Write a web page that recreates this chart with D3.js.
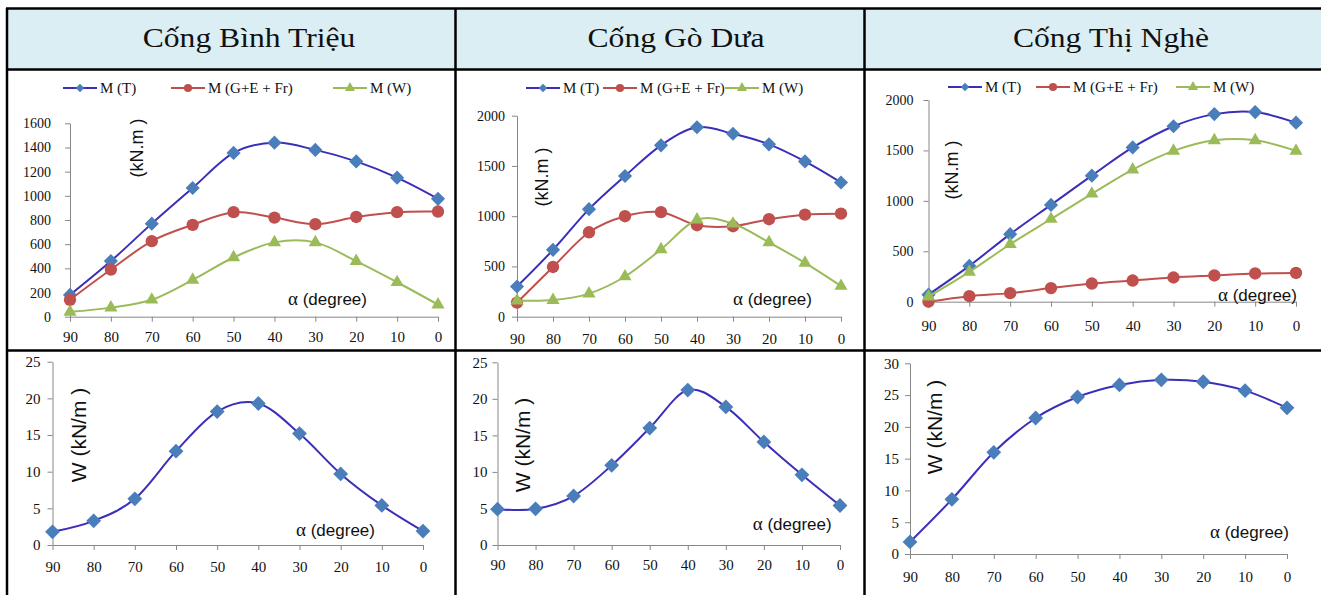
<!DOCTYPE html>
<html>
<head>
<meta charset="utf-8">
<script src="https://cdn.jsdelivr.net/npm/d3@7"></script>
<style>
  body { margin: 0; background: #fff; }
  svg { display: block; }
</style>
</head>
<body>
<div id="chart"></div>
<script>
// ---- data ----
var angles = [90, 80, 70, 60, 50, 40, 30, 20, 10, 0];
var titles = ["Cống Bình Triệu", "Cống Gò Dưa", "Cống Thị Nghè"];
var seriesNames = ["M (T)", "M (G+E + Fr)", "M (W)"];

var binhTrieuMT  = [180, 460, 770, 1065, 1355, 1440, 1380, 1285, 1150, 975];
var binhTrieuMG  = [140, 390, 625, 760, 865, 820, 765, 825, 865, 870];
var binhTrieuMW  = [40, 75, 140, 305, 490, 615, 615, 460, 285, 100];
var binhTrieuW   = [1.8, 3.3, 6.3, 12.8, 18.2, 19.3, 15.2, 9.7, 5.4, 1.9];

var goDuaMT  = [300, 665, 1070, 1400, 1705, 1885, 1820, 1715, 1545, 1335];
var goDuaMG  = [140, 495, 840, 1000, 1040, 910, 900, 970, 1015, 1025];
var goDuaMW  = [160, 165, 230, 400, 670, 965, 925, 740, 535, 305];
var goDuaW   = [4.9, 4.95, 6.7, 10.9, 16.0, 21.2, 18.9, 14.1, 9.6, 5.4];

var thiNgheMT  = [70, 355, 670, 960, 1250, 1530, 1740, 1860, 1880, 1775];
var thiNgheMG  = [0, 55, 85, 135, 180, 210, 240, 260, 280, 285];
var thiNgheMW  = [50, 295, 570, 820, 1070, 1310, 1495, 1600, 1600, 1495];
var thiNgheW   = [1.9, 8.6, 16.0, 21.4, 24.7, 26.6, 27.4, 27.1, 25.7, 23.0];

var ticksBinhTrieuM = [0, 200, 400, 600, 800, 1000, 1200, 1400, 1600];
var ticksGoDuaM     = [0, 500, 1000, 1500, 2000];
var ticksThiNgheM   = [0, 500, 1000, 1500, 2000];
var ticksBinhTrieuW = [0, 5, 10, 15, 20, 25];
var ticksGoDuaW     = [0, 5, 10, 15, 20, 25];
var ticksThiNgheW   = [0, 5, 10, 15, 20, 25, 30];

var W = 1321, H = 595;
var blueLine = "#3a2fb8", blueMark = "#4a7ebb";
var redC = "#c0504d", greenC = "#9bbb59";
var axisC = "#878787";

var serif = "'Liberation Serif', 'Times New Roman', serif";
var sans = "'Liberation Sans', Arial, sans-serif";

var svg = d3.select("#chart").append("svg")
  .attr("width", W).attr("height", H);

// ---- table frame ----
svg.append("rect").attr("x", 7).attr("y", 8).attr("width", W - 7).attr("height", 62)
  .attr("fill", "#dbeef4");

var titleX = [249, 676, 1111];
svg.selectAll(".title").data(titles).enter().append("text")
  .attr("transform", function(d, i) { return "translate(" + titleX[i] + ",47) scale(1.13,1)"; })
  .attr("text-anchor", "middle")
  .style("font-family", serif)
  .style("font-size", "28px")
  .attr("fill", "#111")
  .text(function(d) { return d; });

// ---- panels ----
var topPanels = [
  { mt: binhTrieuMT, mg: binhTrieuMG, mw: binhTrieuMW, ticks: ticksBinhTrieuM,
    x: [70, 438], y: [316.7, 123.3], ypad: 14, xpad: 9.5,
    ylab: [137, 148], alpha: [288, 305], leg: [80, 188, 350], legY: 88 },
  { mt: goDuaMT, mg: goDuaMG, mw: goDuaMW, ticks: ticksGoDuaM,
    x: [517, 841], y: [316.7, 115.7], ypad: 7, xpad: 12,
    ylab: [542, 177], alpha: [733, 305], leg: [543, 620, 742], legY: 88 },
  { mt: thiNgheMT, mg: thiNgheMG, mw: thiNgheMW, ticks: ticksThiNgheM,
    x: [928.5, 1296], y: [301.7, 100], ypad: 10, xpad: 14,
    ylab: [952, 170], alpha: [1218, 301], leg: [965, 1053, 1193], legY: 87 }
];

var bottomPanels = [
  { w: binhTrieuW, ticks: ticksBinhTrieuW, x: [52.5, 423], y: [545, 361.7],
    ypad: 7, xpad: 11, ylab: [79, 435], alpha: [296, 536] },
  { w: goDuaW, ticks: ticksGoDuaW, x: [497.5, 840], y: [545, 362.3],
    ypad: 5, xpad: 9.5, ylab: [523, 445], alpha: [752.7, 530] },
  { w: thiNgheW, ticks: ticksThiNgheW, x: [910, 1287], y: [554, 363.3],
    ypad: 6, xpad: 12, ylab: [935, 427], alpha: [1210, 538] }
];

function marker(kind, size) {
  if (kind === "diamond") return d3.symbol().type(d3.symbolSquare).size(size)();
  if (kind === "circle") return d3.symbol().type(d3.symbolCircle).size(size)();
  return d3.symbol().type(d3.symbolTriangle).size(size)();
}

function drawAxes(g, x, y, ticks, p, yFont, xFont) {
  var ya = g.append("g").attr("transform", "translate(" + p.x[0] + ",0)")
    .call(d3.axisLeft(y).tickValues(ticks).tickFormat(d3.format("d"))
      .tickSize(5).tickSizeOuter(0).tickPadding(p.ypad));
  var xa = g.append("g").attr("transform", "translate(0," + p.y[0] + ")")
    .call(d3.axisBottom(x).tickValues(angles).tickSize(5).tickSizeOuter(0).tickPadding(p.xpad));
  [ya, xa].forEach(function(a) {
    a.attr("font-family", null).attr("font-size", null);
    a.select(".domain").attr("stroke", axisC);
    a.selectAll(".tick line").attr("stroke", axisC);
    a.selectAll("text").style("font-family", serif).attr("fill", "#111");
  });
  ya.selectAll("text").style("font-size", yFont + "px");
  xa.selectAll("text").style("font-size", xFont + "px");
}

function alphaLabel(g, pos) {
  var t = g.append("text").attr("x", pos[0]).attr("y", pos[1])
    .style("font-size", "17px").attr("fill", "#111");
  t.append("tspan").style("font-family", serif).style("font-size", "19px").text("α");
  t.append("tspan").style("font-family", sans).text(" (degree)");
}

function drawSeries(g, x, y, vals, lineColor, markColor, kind, size) {
  var line = d3.line().curve(d3.curveCardinal.tension(0))
    .x(function(d, i) { return x(angles[i]); })
    .y(function(d) { return y(d); });
  g.append("path").datum(vals).attr("d", line)
    .attr("fill", "none").attr("stroke", lineColor).attr("stroke-width", 2);
  g.selectAll(null).data(vals).enter().append("path")
    .attr("d", marker(kind, size))
    .attr("transform", function(d, i) {
      var r = kind === "diamond" ? " rotate(45)" : "";
      return "translate(" + x(angles[i]) + "," + y(d) + ")" + r;
    })
    .attr("fill", markColor);
}

topPanels.forEach(function(p) {
  var g = svg.append("g");
  var x = d3.scalePoint().domain(angles).range(p.x);
  var y = d3.scaleLinear().domain([0, d3.max(p.ticks)]).range(p.y);
  drawAxes(g, x, y, p.ticks, p, 14, 15);

  g.append("text")
    .attr("transform", "translate(" + p.ylab[0] + "," + p.ylab[1] + ") rotate(-90)")
    .attr("text-anchor", "middle").attr("dy", "0.35em")
    .style("font-family", sans).style("font-size", "18px").attr("fill", "#111")
    .text("(kN.m )");
  alphaLabel(g, p.alpha);

  drawSeries(g, x, y, p.mt, blueLine, blueMark, "diamond", 100);
  drawSeries(g, x, y, p.mg, redC, redC, "circle", 120);
  drawSeries(g, x, y, p.mw, greenC, greenC, "triangle", 75);

  // legend
  var legStyle = [[blueLine, blueMark, "diamond", 36], [redC, redC, "circle", 52], [greenC, greenC, "triangle", 45]];
  seriesNames.forEach(function(name, i) {
    var cx = p.leg[i], s = legStyle[i];
    g.append("line").attr("x1", cx - 17).attr("x2", cx + 17)
      .attr("y1", p.legY).attr("y2", p.legY)
      .attr("stroke", s[0]).attr("stroke-width", 2);
    g.append("path").attr("d", marker(s[2], s[3]))
      .attr("transform", "translate(" + cx + "," + p.legY + ")" + (s[2] === "diamond" ? " rotate(45)" : ""))
      .attr("fill", s[1]);
    g.append("text").attr("x", cx + 20).attr("y", p.legY).attr("dy", "0.35em")
      .style("font-family", serif).style("font-size", "15px").attr("fill", "#111")
      .text(name);
  });
});

bottomPanels.forEach(function(p) {
  var g = svg.append("g");
  var x = d3.scalePoint().domain(angles).range(p.x);
  var y = d3.scaleLinear().domain([0, d3.max(p.ticks)]).range(p.y);
  drawAxes(g, x, y, p.ticks, p, 15, 15);

  g.append("text")
    .attr("transform", "translate(" + p.ylab[0] + "," + p.ylab[1] + ") rotate(-90)")
    .attr("text-anchor", "middle").attr("dy", "0.35em")
    .style("font-family", sans).style("font-size", "21px").attr("fill", "#111")
    .text("W (kN/m )");
  alphaLabel(g, p.alpha);

  drawSeries(g, x, y, p.w, blueLine, blueMark, "diamond", 110);
});

// ---- table lines on top ----
var frame = svg.append("g").attr("stroke", "#000").attr("stroke-width", 2.5);
[[6, 8.5, W, 8.5], [6, 69.5, W, 69.5], [6, 350.5, W, 350.5],
 [7, 8, 7, H], [455.5, 8, 455.5, H], [864.5, 8, 864.5, H]].forEach(function(l) {
  frame.append("line").attr("x1", l[0]).attr("y1", l[1]).attr("x2", l[2]).attr("y2", l[3]);
});
</script>
</body>
</html>
